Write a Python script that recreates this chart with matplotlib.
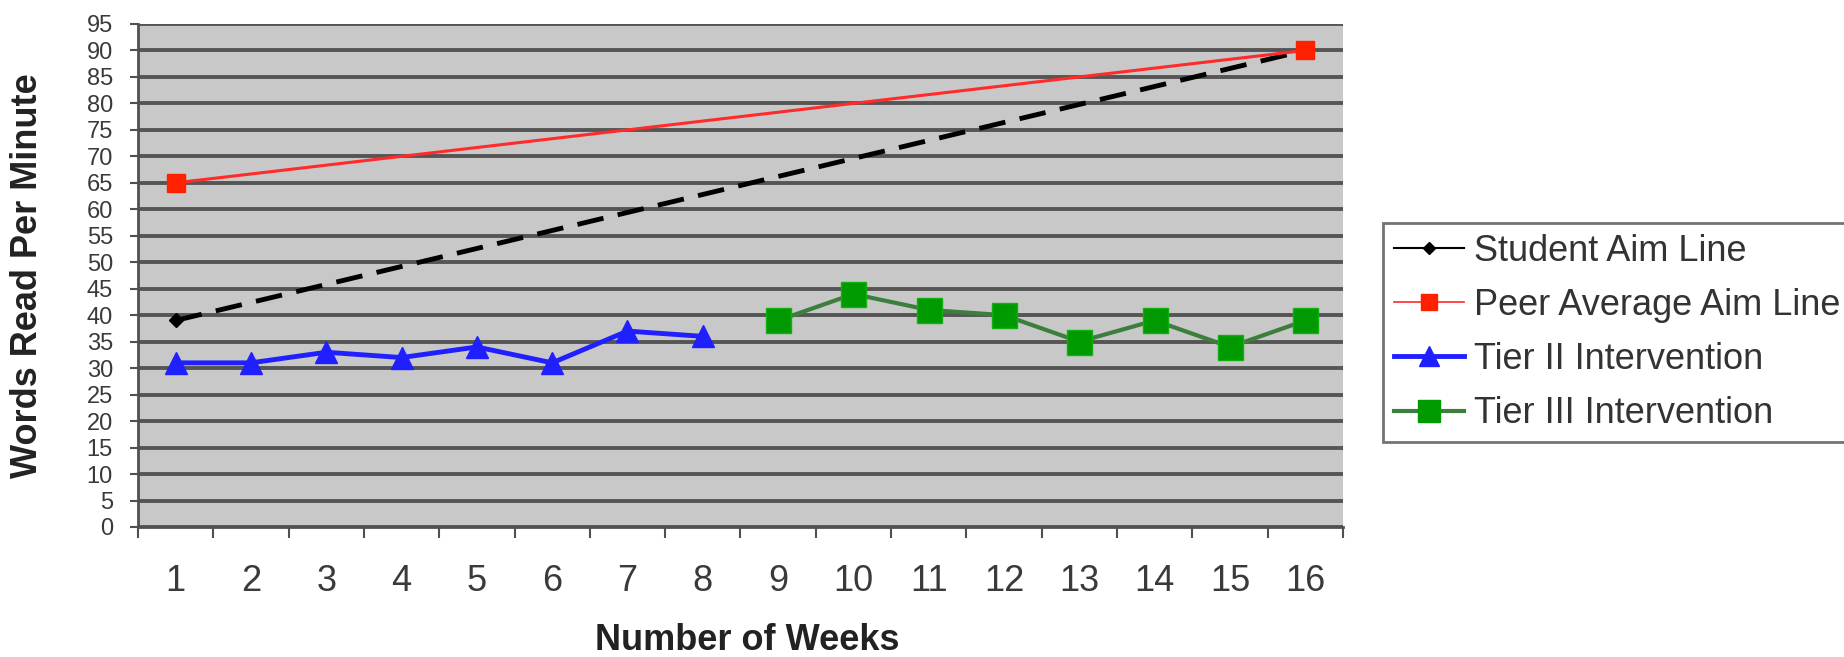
import matplotlib
matplotlib.use('Agg')
from matplotlib import pyplot as plt
from matplotlib.lines import Line2D

plt.rcParams['font.family'] = ['Liberation Sans', 'DejaVu Sans']

# data
week_labels = [str(w) for w in range(1, 17)]
weeks = list(range(1, 17))
aim_weeks = [1, 16]
student_aim = [39, 90]
peer_aim = [65, 90]
tier2_weeks = [1, 2, 3, 4, 5, 6, 7, 8]
tier2_wpm = [31, 31, 33, 32, 34, 31, 37, 36]
tier3_weeks = [9, 10, 11, 12, 13, 14, 15, 16]
tier3_wpm = [39, 44, 41, 40, 35, 39, 34, 39]
series_names = ['Student Aim Line', 'Peer Average Aim Line',
                'Tier II Intervention', 'Tier III Intervention']

blue = '#1f1fff'
green = '#009a00'
green_line = '#3c7f3c'

fig = plt.figure(figsize=(18.44, 6.57), dpi=100)
ax = fig.add_axes([0.0748, 0.1979, 0.6535, 0.7656])
ax.set_facecolor('#c8c8c8')

# series
ax.plot(aim_weeks, student_aim, color='black', lw=3.5, dashes=(5.5, 3),
        marker='D', ms=7, markevery=[0], zorder=3)
ax.plot(aim_weeks, peer_aim, color='#ff2a2a', lw=2.2, marker='s', ms=13,
        mfc='#ff2000', mec='#ff2000', zorder=4)
ax.plot(tier2_weeks, tier2_wpm, color=blue, lw=3.5, marker='^', ms=16,
        mfc=blue, mec=blue, zorder=5)
ax.plot(tier3_weeks, tier3_wpm, color=green_line, lw=3, marker='s', ms=18,
        mfc=green, mec='#10b010', zorder=5)

ax.set_xlim(0.5, 16.5)
ax.set_ylim(0, 95)
ax.set_yticks(range(0, 100, 5))
ax.set_xticks(weeks)
ax.set_xticklabels(week_labels)
ax.set_xticks([w + 0.5 for w in range(0, 17)], minor=True)

ax.yaxis.grid(True, color='#555555', lw=2.8)
ax.set_axisbelow(True)

for s in ['top', 'right']:
    ax.spines[s].set_visible(False)
for s in ['left', 'bottom']:
    ax.spines[s].set_color('#505050')
    ax.spines[s].set_linewidth(2)

ax.tick_params(axis='y', length=6, width=1.5, color='#505050', pad=12,
               labelsize=17, labelcolor='#3a3a3a')
ax.tick_params(axis='x', which='major', length=0, pad=27, labelsize=26,
               labelcolor='#3a3a3a')
ax.tick_params(axis='x', which='minor', length=8, width=1.5, color='#505050')

fig.text(28 / 1844, 1 - 276 / 657, 'Words Read Per Minute', rotation=90,
         ha='center', va='center', fontsize=26, fontweight='bold', color='#222222')
fig.text(747 / 1844, 1 - 640 / 657, 'Number of Weeks', ha='center', va='center',
         fontsize=26, fontweight='bold', color='#222222')

handles = [
    Line2D([], [], color='black', lw=1.5, marker='D', ms=6),
    Line2D([], [], color='#ff2a2a', lw=1.2, marker='s', ms=11, mfc='#ff2000', mec='#ff2000'),
    Line2D([], [], color=blue, lw=3.5, marker='^', ms=14, mfc=blue, mec=blue),
    Line2D([], [], color=green_line, lw=3, marker='s', ms=16, mfc=green, mec=green),
]
leg = fig.legend(handles, series_names, loc='upper left',
                 bbox_to_anchor=(1383 / 1844, 1 - 223 / 657), fontsize=26,
                 frameon=True, fancybox=False, handlelength=1.95,
                 handletextpad=0.28, labelspacing=0.53, borderpad=0.3,
                 borderaxespad=0)
leg.get_frame().set_edgecolor('#505050')
leg.get_frame().set_linewidth(2)
for t in leg.get_texts():
    t.set_color('#333333')

fig.savefig('out.png', dpi=100)
